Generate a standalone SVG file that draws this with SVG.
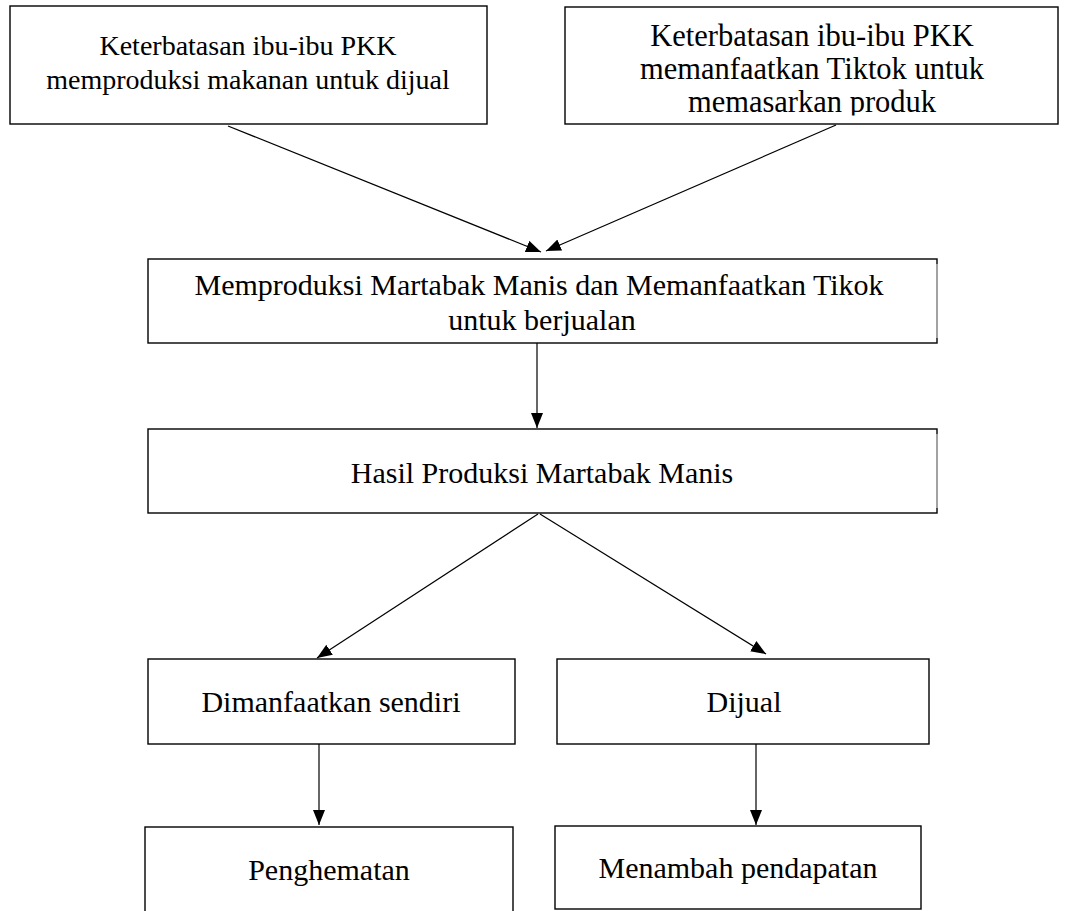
<svg xmlns="http://www.w3.org/2000/svg" width="1067" height="911" viewBox="0 0 1067 911">
<style>
.box{fill:#fff;stroke:#000;stroke-width:1.4}
.edge{stroke:#c8c8c8;stroke-width:1.4}
.t{font-family:"Liberation Serif","Times New Roman",serif;font-size:30px;fill:#000;text-anchor:middle}
.t28{font-size:28px}
.t31{font-size:30.5px}
.conn line{stroke:#000;stroke-width:1.2;fill:none;marker-end:url(#ah)}
</style>
<defs>
<marker id="ah" markerUnits="userSpaceOnUse" markerWidth="16" markerHeight="13" refX="15" refY="6" orient="auto">
<path d="M0,0 L15,6 L0,12 z" fill="#000"/>
</marker>
<clipPath id="clip2"><rect x="565" y="7" width="493" height="108.5"/></clipPath>
</defs>
<rect width="1067" height="911" fill="#fff"/>
<g id="n1">
<rect class="box" x="10" y="6" width="477" height="118"/>
<text class="t t28" x="248" y="55">Keterbatasan ibu-ibu PKK</text>
<text class="t t28" x="248" y="88.5">memproduksi makanan untuk dijual</text>
</g>
<g id="n2">
<rect class="box" x="565" y="7" width="493" height="117"/>
<g clip-path="url(#clip2)">
<text class="t t31" x="812" y="46">Keterbatasan ibu-ibu PKK</text>
<text class="t t31" x="812" y="79">memanfaatkan Tiktok untuk</text>
<text class="t t31" x="812" y="112">memasarkan produk</text>
</g>
</g>
<g id="n3">
<rect class="box" x="148" y="259" width="789" height="84"/>
<line class="edge" x1="937" y1="264" x2="937" y2="338"/>
<text class="t" x="539" y="295">Memproduksi Martabak Manis dan Memanfaatkan Tikok</text>
<text class="t" x="542" y="330">untuk berjualan</text>
</g>
<g id="n4">
<rect class="box" x="148" y="429" width="789" height="84"/>
<line class="edge" x1="937" y1="434" x2="937" y2="508"/>
<text class="t" x="542" y="483">Hasil Produksi Martabak Manis</text>
</g>
<g id="n5">
<rect class="box" x="148" y="659" width="367" height="85"/>
<text class="t" x="331" y="712">Dimanfaatkan sendiri</text>
</g>
<g id="n6">
<rect class="box" x="557" y="659" width="372" height="85"/>
<text class="t" x="744" y="712">Dijual</text>
</g>
<g id="n7">
<rect class="box" x="145" y="827" width="368" height="100"/>
<text class="t" x="329" y="880">Penghematan</text>
</g>
<g id="n8">
<rect class="box" x="555" y="826" width="366" height="83"/>
<text class="t" x="738" y="878">Menambah pendapatan</text>
</g>
<g id="connectors" class="conn">
<line x1="228" y1="126" x2="541" y2="252"/>
<line x1="836" y1="125" x2="546" y2="251"/>
<line x1="537" y1="343" x2="537" y2="428"/>
<line x1="538" y1="514" x2="317" y2="658"/>
<line x1="540" y1="514" x2="766" y2="654"/>
<line x1="319" y1="744" x2="319" y2="825"/>
<line x1="756" y1="744" x2="756" y2="825"/>
</g>
</svg>
